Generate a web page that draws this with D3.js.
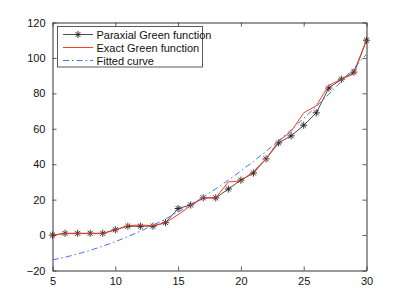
<!DOCTYPE html>
<html><head><meta charset="utf-8">
<script src="https://cdn.jsdelivr.net/npm/d3@7/dist/d3.min.js"></script>
<style>body{margin:0;background:#fff}svg{display:block}text{font-family:"Liberation Sans",Arial,Helvetica,sans-serif}</style>
</head><body><svg id="c" width="405" height="305"></svg>
<script>
const xs = [5,6,7,8,9,10,11,12,13,14,15,16,17,18,19,20,21,22,23,24,25,26,27,28,29,30];
const paraxial = [0,1,1,1,1,3,5,5,5,7,15,17,21,21,26,31,35,43,52,56,62,69,83,88,92,110];
const exact = [0,0.8,0.8,0.8,0.8,3,5.3,5.7,5.3,7,11.5,16.5,21,21,30,30.5,36,43,53,58.5,69,73,84.5,88,91,110];
const fitted = [-14,-12.5,-10.7,-8.6,-6.3,-3.7,-0.9,2.2,5.5,9.1,13,17.1,21.5,26.1,31,36.2,41.6,47.3,53.2,59.4,65.9,72.6,79.5,86.8,94.3,102];
const xTicks = [5,10,15,20,25,30];
const yTicks = [-20,0,20,40,60,80,100,120];
const labels = ["Paraxial Green function","Exact Green function","Fitted curve"];

const svg = d3.select("#c");
const L=52.5,R=366.5,T=22.5,B=270.5;
const x = d3.scaleLinear().domain([5,30]).range([L,R]);
const y = d3.scaleLinear().domain([-20,120]).range([B,T]);
const axisColor="#333";

const gB = svg.append("g").attr("transform",`translate(0,${B})`).call(d3.axisBottom(x).tickValues(xTicks).tickSizeInner(-4).tickSizeOuter(0).tickPadding(7));
const gT = svg.append("g").attr("transform",`translate(0,${T})`).call(d3.axisTop(x).tickValues(xTicks).tickSizeInner(-4).tickSizeOuter(0).tickFormat(""));
const gL = svg.append("g").attr("transform",`translate(${L},0)`).call(d3.axisLeft(y).tickValues(yTicks).tickSizeInner(-4).tickSizeOuter(0).tickPadding(7));
const gR = svg.append("g").attr("transform",`translate(${R},0)`).call(d3.axisRight(y).tickValues(yTicks).tickSizeInner(-4).tickSizeOuter(0).tickFormat(""));
[gB,gT,gL,gR].forEach(g=>{
  g.selectAll("path.domain").attr("stroke",axisColor).attr("stroke-width",1);
  g.selectAll(".tick line").attr("stroke",axisColor).attr("stroke-width",0.8);
  g.selectAll(".tick text").attr("fill","#111").style("font-size","11px").style("font-family",'"Liberation Sans",Arial,sans-serif');
});
gL.selectAll(".tick text").text(d=>d<0?"\u221220":d);

const line = d3.line().x((d,i)=>x(xs[i])).y(d=>y(d));
const star = r => `M${-r},0L${r},0M0,${-r}L0,${r}M${-r*0.7},${-r*0.7}L${r*0.7},${r*0.7}M${-r*0.7},${r*0.7}L${r*0.7},${-r*0.7}`;

svg.append("path").datum(paraxial).attr("d",line).attr("fill","none").attr("stroke","#222").attr("stroke-width",0.8);
svg.append("g").selectAll("path").data(paraxial).join("path")
  .attr("transform",(d,i)=>`translate(${x(xs[i])},${y(d)})`).attr("d",star(3.6))
  .attr("stroke","#222").attr("stroke-width",0.9).attr("fill","none");
svg.append("path").datum(exact).attr("d",line).attr("fill","none").attr("stroke","#ff3b22").attr("stroke-width",1);
svg.append("path").datum(fitted).attr("d",line).attr("fill","none").attr("stroke","#4a6bff").attr("stroke-width",1).attr("stroke-dasharray","6,3,1.5,3");

const lg = svg.append("g");
lg.append("rect").attr("x",57.5).attr("y",26.5).attr("width",145).attr("height",40.5).attr("fill","#fff").attr("stroke",axisColor).attr("stroke-width",0.8);
const rows=[34.5,47.5,60.5];
lg.append("line").attr("x1",63).attr("x2",93).attr("y1",rows[0]).attr("y2",rows[0]).attr("stroke","#222").attr("stroke-width",0.8);
lg.append("path").attr("transform",`translate(78,${rows[0]})`).attr("d",star(3.6)).attr("stroke","#222").attr("stroke-width",0.9);
lg.append("line").attr("x1",63).attr("x2",93).attr("y1",rows[1]).attr("y2",rows[1]).attr("stroke","#ff3b22").attr("stroke-width",1);
lg.append("line").attr("x1",63).attr("x2",93).attr("y1",rows[2]).attr("y2",rows[2]).attr("stroke","#4a6bff").attr("stroke-width",1).attr("stroke-dasharray","6,3,1.5,3");
lg.selectAll("text").data(labels).join("text").attr("x",96.5).attr("y",(d,i)=>rows[i]+4).text(d=>d).attr("fill","#111").style("font-size","11px");
</script></body></html>
